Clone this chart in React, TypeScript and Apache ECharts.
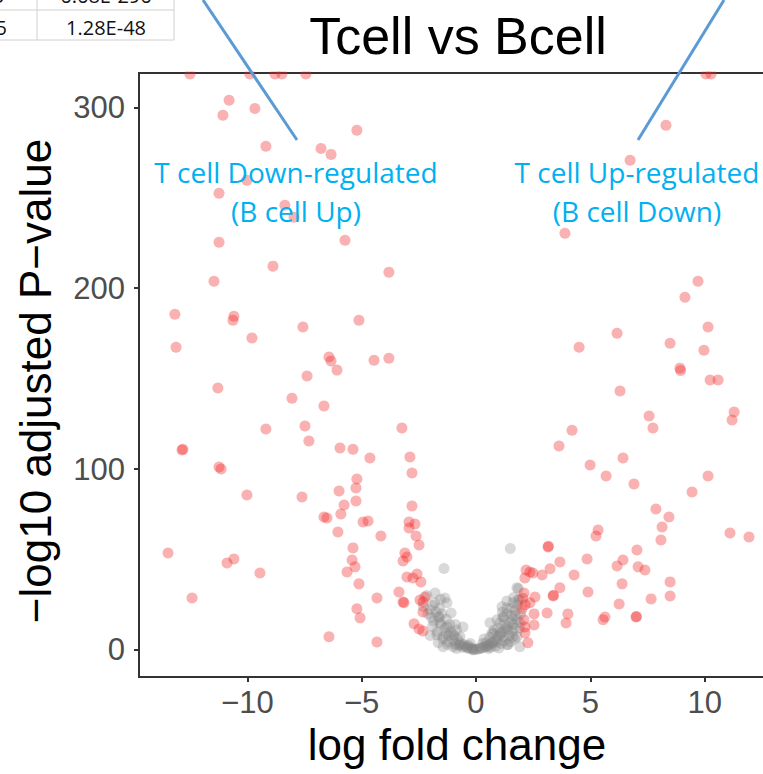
import React, { useEffect, useRef } from "react";
import * as echarts from "echarts";

const xTicks = [-10, -5, 0, 5, 10];
const yTicks = [0, 100, 200, 300];

// T cell down-regulated (significant, negative log fold change)
const downRegulated: [number, number][] = [
  [-12.51, 318.5], [-9.89, 318.5], [-8.79, 318.5], [-8.49, 318.5], [-7.44, 318.5],
  [-10.8, 303.9], [-11.07, 295.6], [-9.67, 299.4], [-5.21, 287.3], [-9.19, 278.5],
  [-6.78, 277.3], [-6.34, 274.0], [-10.02, 259.7], [-11.24, 252.5], [-8.36, 245.9],
  [-7.96, 239.2], [-11.24, 225.4], [-5.73, 226.5], [-8.88, 212.2], [-3.81, 208.8],
  [-11.46, 203.9], [-13.17, 185.6], [-10.59, 184.5], [-10.63, 182.3], [-7.57, 178.5],
  [-5.12, 182.3], [-9.8, 172.4], [-13.12, 167.4], [-6.43, 161.9], [-6.34, 159.7],
  [-6.08, 154.7], [-4.46, 160.2], [-3.81, 161.3], [-7.39, 151.4], [-11.29, 144.8],
  [-8.05, 139.2], [-6.65, 134.8], [-9.19, 122.1], [-7.48, 123.8], [-7.31, 115.5],
  [-3.24, 122.7], [-12.86, 110.5], [-12.82, 111.0], [-5.95, 111.6], [-5.38, 111.0],
  [-4.64, 106.1], [-2.89, 106.6], [-2.8, 97.8], [-11.24, 101.1], [-11.15, 100.0],
  [-5.21, 94.5], [-5.25, 89.5], [-10.02, 85.6], [-7.61, 84.5], [-5.99, 87.8],
  [-5.25, 82.3], [-2.8, 79.6], [-5.77, 80.1], [-5.91, 75.1], [-6.65, 73.5],
  [-6.52, 72.9], [-4.94, 70.7], [-4.72, 71.3], [-2.93, 70.7], [-2.67, 69.6],
  [-2.93, 67.4], [-6.04, 65.2], [-4.16, 63.0], [-2.62, 63.0], [-2.49, 58.0],
  [-13.47, 53.6], [-5.38, 56.4], [-3.11, 53.6], [-3.02, 51.4], [-3.19, 49.2],
  [-10.59, 50.3], [-10.89, 48.1], [-5.42, 49.7], [-5.29, 45.9], [-9.45, 42.5],
  [-5.64, 43.1], [-3.02, 40.3], [-2.76, 39.8], [-2.58, 42.0], [-2.41, 37.6],
  [-5.12, 36.5], [-12.42, 28.7], [-4.33, 28.7], [-3.37, 32.0], [-3.19, 26.5],
  [-3.15, 26.0], [-2.45, 27.6], [-2.32, 26.5], [-2.23, 29.3], [-5.21, 22.7],
  [-5.07, 17.7], [-2.32, 21.0], [-2.71, 14.4], [-2.49, 11.6], [-2.32, 10.5],
  [-6.43, 7.2], [-4.33, 4.4],
];

// T cell up-regulated (significant, positive log fold change)
const upRegulated: [number, number][] = [
  [10.06, 318.5], [10.28, 318.5], [8.31, 290.1], [6.74, 270.7], [3.89, 230.4],
  [9.71, 203.9], [9.14, 195.0], [6.17, 175.1], [4.51, 167.4], [8.49, 169.6],
  [10.15, 178.5], [9.97, 165.7], [8.92, 155.8], [8.95, 154.5], [10.24, 149.2],
  [10.59, 149.2], [6.3, 143.1], [7.57, 129.3], [7.74, 122.7], [11.29, 131.5],
  [11.2, 127.1], [4.2, 121.5], [3.63, 112.7], [6.43, 106.1], [4.99, 102.2],
  [5.69, 96.1], [6.91, 91.7], [10.15, 96.1], [9.45, 87.3], [7.87, 77.9],
  [8.44, 73.5], [8.14, 68.0], [5.34, 66.3], [5.25, 63.0], [8.09, 60.8],
  [11.11, 64.6], [11.94, 62.4], [3.15, 56.9], [3.17, 57.3], [7.04, 55.2],
  [4.86, 50.3], [3.67, 48.6], [6.43, 49.7], [6.17, 46.4], [7.09, 45.9],
  [7.39, 44.2], [3.24, 44.8], [2.36, 43.1], [2.49, 42.5], [2.19, 44.2],
  [2.14, 39.8], [2.89, 41.4], [4.29, 41.4], [8.49, 37.6], [6.39, 36.5],
  [3.67, 34.3], [4.9, 32.0], [3.37, 29.8], [3.39, 30.2], [2.1, 31.5],
  [2.58, 29.3], [7.66, 28.2], [8.49, 29.8], [6.26, 25.4], [2.36, 26.0],
  [2.01, 22.7], [3.11, 20.4], [2.54, 19.9], [4.02, 19.9], [3.94, 14.9],
  [5.64, 18.2], [5.56, 16.6], [7.0, 18.2], [7.02, 18.5], [2.1, 16.6],
  [2.14, 12.7], [2.54, 13.8], [2.14, 9.4], [2.27, 3.9], [2.05, 28.5],
  [2.15, 25.0],
];

// not significant
const notSignificant: [number, number][] = [
  [-2.3, 24], [-2.1, 20], [-1.9, 24.5], [-1.8, 26], [-1.4, 45], [-1.75, 21],
  [-1.6, 18], [-1.5, 20], [-1.9, 13], [-1.7, 10], [-1.55, 14], [-1.35, 12],
  [-1.3, 17], [-1.2, 8], [-1.45, 6], [-1.1, 10], [-1.0, 5], [-0.95, 8],
  [-0.9, 3], [-0.8, 6], [-0.75, 2.5], [-0.7, 4], [-0.6, 1.5], [-0.55, 3],
  [-0.5, 2], [-0.4, 1], [-0.35, 2.5], [-0.3, 0.8], [-0.2, 1.2], [-0.15, 0.5],
  [-0.1, 0.3], [-1.65, 4], [-1.25, 3], [-2.0, 8], [-1.85, 16], [-1.15, 14],
  [-0.85, 11], [-2.15, 30], [-1.55, 28], [-1.95, 18],
  [0.0, 0.2], [0.1, 0.5], [0.2, 0.8], [0.3, 1.2], [0.4, 1.8], [0.5, 2.3],
  [0.6, 3], [0.7, 4], [0.8, 5], [0.9, 6], [1.0, 7.5], [1.1, 9], [1.2, 10],
  [1.3, 12], [1.4, 13], [1.5, 15], [1.6, 17], [1.7, 19], [1.75, 22], [1.8, 25],
  [1.9, 28], [1.85, 34], [1.5, 56], [1.2, 18], [1.35, 20], [1.05, 15],
  [1.45, 8], [1.6, 10], [1.7, 6], [1.9, 12], [1.55, 23], [1.25, 5], [0.95, 12],
  [0.75, 9], [0.6, 7], [0.45, 4], [1.65, 29], [1.8, 17], [0.85, 2], [1.1, 3.5],
  [1.35, 27], [0.55, 0.8], [1.95, 20], [1.4, 3], [1.65, 14], [1.15, 21],
  [0.3, 3.5], [0.65, 1.5], [1.0, 1.0], [1.5, 4.5],
  [-1.79, 31.5], [-1.36, 28.7], [-1.27, 26], [-1.09, 20.4], [-1.66, 18.2],
  [-1.57, 15], [-1.27, 12.7], [-1.71, 8.3], [-1.0, 8.3], [-0.7, 7.2],
  [-0.57, 12.7], [-1.0, 1.7], [-0.39, 1.7], [-0.13, 0.0], [0.17, 1.1],
  [0.48, 1.7], [0.74, 3.9], [0.61, 15], [0.92, 16.6], [1.18, 18.2],
  [1.14, 23.8], [1.36, 23.2], [1.62, 26], [1.79, 34.3], [1.84, 27.6],
  [1.4, 11], [1.62, 7.2], [1.18, 7.2], [0.92, 4.4], [1.36, 2.8],
  [1.92, 15], [1.79, 7.2], [1.92, 1.7], [1.05, 9.4], [0.7, 9.4],
  [-0.7, 2.8], [-1.22, 4.4], [-1.44, 7.2], [-2.01, 22.1], [-1.44, 1.7],
  [-0.85, 0.8], [-0.25, 3.5], [0.35, 6], [1.25, 14], [1.55, 19],
  [1.7, 12], [0.8, 11], [-1.3, 9], [-0.9, 14], [-1.6, 23],
];

const minusFmt = (v: number) => (v < 0 ? "\u2212" + Math.abs(v) : String(v));

export default function App() {
  const ref = useRef<HTMLDivElement>(null);
  useEffect(() => {
    if (!ref.current) return;
    const chart = echarts.init(ref.current, undefined, { renderer: "svg" });
    const axisColor = "#333333";
    const labelStyle = {
      fontSize: 31,
      color: "#4d4d4d",
      fontFamily: "Liberation Sans",
    };
    chart.setOption({
      animation: false,
      backgroundColor: "#ffffff",
      grid: {
        left: 139,
        top: 73,
        bottom: 97,
        right: 12.5,
        show: true,
        borderColor: axisColor,
        borderWidth: 2,
        backgroundColor: "transparent",
      },
      xAxis: {
        type: "value",
        min: -14.74,
        max: 14.5,
        axisLine: { show: true, onZero: false, lineStyle: { color: axisColor, width: 2 } },
        axisTick: {
          show: true,
          length: 5,
          lineStyle: { color: axisColor, width: 2 },
          customValues: xTicks,
        },
        axisLabel: { ...labelStyle, margin: 10, customValues: xTicks, formatter: minusFmt },
        splitLine: { show: false },
      },
      yAxis: {
        type: "value",
        min: -15,
        max: 319,
        axisLine: { show: true, onZero: false, lineStyle: { color: axisColor, width: 2 } },
        axisTick: {
          show: true,
          length: 5,
          lineStyle: { color: axisColor, width: 2 },
          customValues: yTicks,
        },
        axisLabel: { ...labelStyle, margin: 14, customValues: yTicks, formatter: minusFmt },
        splitLine: { show: false },
      },
      series: [
        {
          name: "Not significant",
          type: "scatter",
          data: notSignificant,
          symbol: "circle",
          symbolSize: 11,
          itemStyle: { color: "rgba(130,130,130,0.38)" },
        },
        {
          name: "Down-regulated",
          type: "scatter",
          data: downRegulated,
          symbol: "circle",
          symbolSize: 11,
          itemStyle: { color: "rgba(240,40,40,0.45)" },
        },
        {
          name: "Up-regulated",
          type: "scatter",
          data: upRegulated,
          symbol: "circle",
          symbolSize: 11,
          itemStyle: { color: "rgba(240,40,40,0.45)" },
        },
      ],
      graphic: [
        {
          type: "rect",
          silent: true,
          z: 5,
          shape: { x: 141, y: 0, width: 700, height: 71.5 },
          style: { fill: "#ffffff" },
        },
        // table fragment
        { type: "line", z: 10, shape: { x1: 0, y1: 10, x2: 174, y2: 10 }, style: { stroke: "#d0d0d0", lineWidth: 1 } },
        { type: "line", z: 10, shape: { x1: 0, y1: 40, x2: 174, y2: 40 }, style: { stroke: "#d0d0d0", lineWidth: 1 } },
        { type: "line", z: 10, shape: { x1: 37, y1: 0, x2: 37, y2: 40 }, style: { stroke: "#d0d0d0", lineWidth: 1 } },
        { type: "line", z: 10, shape: { x1: 174, y1: 0, x2: 174, y2: 40 }, style: { stroke: "#d0d0d0", lineWidth: 1 } },
        {
          type: "text", z: 10, x: 106, y: 27,
          style: { text: "1.28E-48", font: "20px 'Open Sans'", fill: "#111", align: "center", verticalAlign: "middle" },
        },
        {
          type: "text", z: 10, x: 106, y: -5,
          style: { text: "6.68E-296", font: "20px 'Open Sans'", fill: "#111", align: "center", verticalAlign: "middle" },
        },
        {
          type: "text", z: 10, x: 7, y: 27,
          style: { text: "5", font: "20px 'Open Sans'", fill: "#111", align: "right", verticalAlign: "middle" },
        },
        {
          type: "text", z: 10, x: 5, y: -5,
          style: { text: "9", font: "20px 'Open Sans'", fill: "#111", align: "right", verticalAlign: "middle" },
        },
        // title
        {
          type: "text", z: 10, x: 458, y: 36,
          style: { text: "Tcell vs Bcell", font: "52px 'Liberation Sans'", fill: "#000", align: "center", verticalAlign: "middle" },
        },
        // pointer lines
        { type: "line", z: 10, shape: { x1: 203, y1: 0, x2: 297, y2: 140 }, style: { stroke: "#5b9bd5", lineWidth: 3 } },
        { type: "line", z: 10, shape: { x1: 724, y1: 0, x2: 638, y2: 140 }, style: { stroke: "#5b9bd5", lineWidth: 3 } },
        // annotations
        {
          type: "text", z: 10, x: 296, y: 172,
          style: { text: "T cell Down-regulated", font: "28px 'Open Sans'", fill: "#00b0f0", align: "center", verticalAlign: "middle" },
        },
        {
          type: "text", z: 10, x: 296, y: 211,
          style: { text: "(B cell Up)", font: "28px 'Open Sans'", fill: "#00b0f0", align: "center", verticalAlign: "middle" },
        },
        {
          type: "text", z: 10, x: 637, y: 172,
          style: { text: "T cell Up-regulated", font: "28px 'Open Sans'", fill: "#00b0f0", align: "center", verticalAlign: "middle" },
        },
        {
          type: "text", z: 10, x: 637, y: 211,
          style: { text: "(B cell Down)", font: "28px 'Open Sans'", fill: "#00b0f0", align: "center", verticalAlign: "middle" },
        },
        // axis titles
        {
          type: "text", z: 10, x: 457, y: 744,
          style: { text: "log fold change", font: "44px 'Liberation Sans'", fill: "#000", align: "center", verticalAlign: "middle" },
        },
        {
          type: "text", z: 10, x: 35, y: 381, rotation: Math.PI / 2,
          style: { text: "\u2212log10 adjusted P\u2212value", font: "44px 'Liberation Sans'", fill: "#000", align: "center", verticalAlign: "middle" },
        },
      ],
    });
    return () => chart.dispose();
  }, []);
  return (
    <div style={{ position: "fixed", left: 0, top: 0, width: 763, height: 774, overflow: "hidden", background: "#fff" }}>
      <div ref={ref} style={{ width: 820, height: 774 }} />
    </div>
  );
}
